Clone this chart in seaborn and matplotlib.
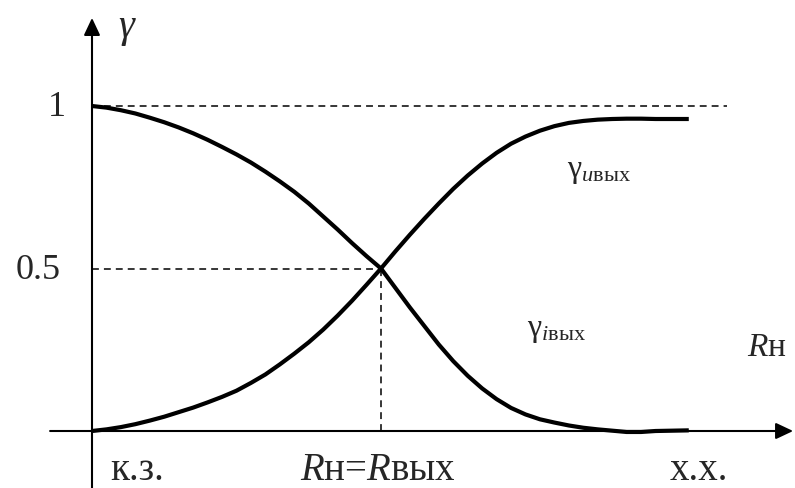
import matplotlib
matplotlib.use("Agg")
import matplotlib.pyplot as plt
import seaborn as sns
import pandas as pd

# Normalised load resistance R_н / R_вых (1.0 is the matched point)
r_load = [0.0, 0.05, 0.1, 0.15, 0.2, 0.25, 0.3, 0.35, 0.4, 0.45, 0.5,
          0.55, 0.6, 0.65, 0.7, 0.75, 0.8, 0.85, 0.9, 0.95, 1.0,
          1.05, 1.1, 1.15, 1.2, 1.25, 1.3, 1.35, 1.4, 1.45, 1.5,
          1.55, 1.6, 1.65, 1.7, 1.75, 1.8, 1.85, 1.9, 1.95, 2.065]

# Voltage transfer ratio γ_u вых
gamma_u = [0.0, 0.005, 0.012, 0.021, 0.032, 0.044, 0.058, 0.072, 0.088, 0.105, 0.124,
           0.148, 0.174, 0.205, 0.238, 0.273, 0.312, 0.355, 0.401, 0.450, 0.5,
           0.553, 0.604, 0.653, 0.700, 0.745, 0.786, 0.823, 0.856, 0.884, 0.906,
           0.924, 0.938, 0.948, 0.954, 0.958, 0.960, 0.961, 0.961, 0.960, 0.960]

# Current transfer ratio γ_i вых
gamma_i = [1.0, 0.995, 0.987, 0.977, 0.964, 0.950, 0.934, 0.916, 0.896, 0.874, 0.851,
           0.826, 0.798, 0.768, 0.736, 0.700, 0.660, 0.620, 0.578, 0.538, 0.5,
           0.440, 0.380, 0.323, 0.266, 0.215, 0.170, 0.131, 0.098, 0.071, 0.051,
           0.036, 0.026, 0.017, 0.010, 0.005, 0.001, -0.003, -0.003, 0.0, 0.002]

y_ticks = [1.0, 0.5]
y_tick_labels = ["1", "0.5"]
x_labels = ["к.з.", "$R$н=$R$вых", "х.х."]
x_label_pos = [0.062, 0.72, 2.0]

df = pd.DataFrame({"r": r_load, "gu": gamma_u, "gi": gamma_i})

sns.set_theme(style="white")
plt.rcParams["font.family"] = ["Liberation Serif", "DejaVu Serif"]
plt.rcParams["mathtext.fontset"] = "custom"
plt.rcParams["mathtext.rm"] = "Liberation Serif"
plt.rcParams["mathtext.it"] = "Liberation Serif:italic"

fig = plt.figure(figsize=(7.95, 4.88), dpi=100)
ax = fig.add_axes([0, 0, 1, 1])
ax.set_xlim(-92 / 289, 703 / 289)
ax.set_ylim(-57 / 325, 431 / 325)
ax.set_axis_off()

# axes with arrow heads
arrow = dict(arrowstyle="-|>,head_length=0.7,head_width=0.33",
             color="black", lw=1.5, mutation_scale=15, shrinkA=0, shrinkB=0)
ax.annotate("", xy=(2.426, 0), xytext=(-0.145, 0), arrowprops=arrow)
ax.annotate("", xy=(0, 1.271), xytext=(0, -0.18), arrowprops=arrow)

# dashed guide lines
dash = dict(color="black", lw=1.1, linestyle=(0, (4.5, 3.3)))
ax.plot([0, 2.197], [1, 1], **dash)
ax.plot([0, 1.0], [0.5, 0.5], **dash)
ax.plot([1.0, 1.0], [0, 0.5], **dash)

# curves
line_kw = dict(ax=ax, color="black", lw=3.0, sort=False)
sns.lineplot(data=df, x="r", y="gu", **line_kw).lines[-1].set_solid_capstyle("butt")
sns.lineplot(data=df, x="r", y="gi", **line_kw).lines[-1].set_solid_capstyle("butt")

# value labels on the vertical axis
for v, lab in zip(y_ticks, y_tick_labels):
    ax.text(-0.09 if lab == "1" else -0.11, v - 0.005, lab, fontsize=26,
            ha="right", va="center")

ax.text(0.09, 1.235, "$γ$", fontsize=29, ha="left", va="center")

# labels under the horizontal axis
for xp, lab in zip(x_label_pos, x_labels):
    ax.text(xp, -0.12, lab, fontsize=28, ha="left", va="center")

ax.text(2.268, 0.255, "$R$н", fontsize=24, ha="left", va="center")

# curve names
ax.text(1.644, 0.80, r"$\mathrm{γ}_{u\mathrm{вых}}$", fontsize=23,
        ha="left", va="center")
ax.text(1.505, 0.31, r"$\mathrm{γ}_{i\mathrm{вых}}$", fontsize=23,
        ha="left", va="center")

fig.savefig("out.png", dpi=100, facecolor="white")
